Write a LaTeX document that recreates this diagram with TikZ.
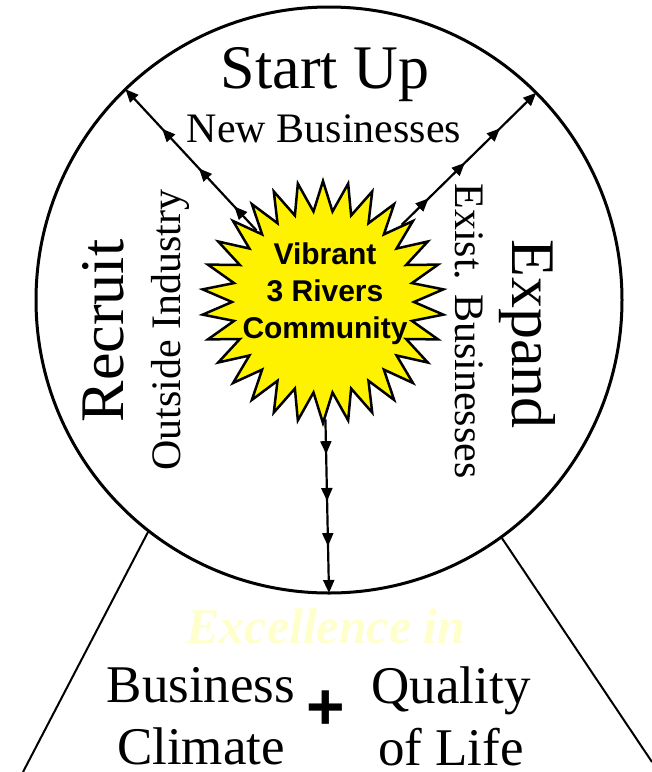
\documentclass[tikz,border=0pt]{standalone}
\usepackage{fontspec}
\setmainfont{Liberation Serif}
\newfontfamily\arialfont{Liberation Sans}
\usetikzlibrary{shapes.geometric,arrows.meta,decorations.markings}
\definecolor{paleyellow}{RGB}{255,255,204}
\begin{document}
\begin{tikzpicture}[x=1pt,y=-1pt,
  tipm/.tip={Triangle[length=13pt,width=11pt]},
  flow/.style={line width=2.2pt},
  marks/.style n args={3}{decoration={markings,
      mark=at position #1 with {\arrow{tipm}},
      mark=at position #2 with {\arrow{tipm}},
      mark=at position #3 with {\arrow{tipm}}},
      postaction={decorate}},
  big/.style={font=\fontsize{62}{62}\selectfont, inner sep=0pt},
  sub/.style={font=\fontsize{42}{42}\selectfont, inner sep=0pt},
  bottomtext/.style={font=\fontsize{53}{62}\selectfont, align=center, inner sep=0pt},
  edge/.style={line width=2pt}]
\useasboundingbox (0,0) rectangle (652,772);
% ring
\node[circle, draw, line width=3pt, minimum size=586pt, inner sep=0pt, outer sep=0pt] (ring) at (329,300) {};
% base lines
\coordinate (bl) at (23,772);
\coordinate (br) at (652,762);
\draw[edge] (ring.232.4) -- (bl);
\draw[edge] (ring.306.3) -- (br);
% starburst
\node[star, star points=30, star point ratio=1.33, minimum size=242pt, inner sep=0pt,
      draw, line width=2.5pt, fill=yellow] (sun) at (323,302) {};
\node[font=\arialfont\bfseries\fontsize{30}{37}\selectfont, align=center, inner sep=0pt] (suntext) at (325,294) {Vibrant\\3 Rivers\\Community};
% connectors
\draw[flow, marks={0.17}{0.44}{0.72}, -{tipm}] (sun) -- (ring.134.4);
\draw[flow, marks={0.2}{0.47}{0.73}, -{tipm}] (sun) -- (ring.45.8);
\draw[flow, marks={0.2}{0.47}{0.73}, -{tipm}] (sun) -- (ring.270);
% labels
\node[big, anchor=base] (startup) at (325,88) {Start Up};
\node[sub, anchor=base] (newbiz) at (324,142) {New Businesses};
\node[big, anchor=base, rotate=90] (recruit) at (123,331) {Recruit};
\node[sub, anchor=base, rotate=90] (outside) at (180,330) {Outside Industry};
\node[big, anchor=base, rotate=-90] (expand) at (512,334) {Expand};
\node[sub, anchor=base, rotate=-90] (exist) at (455,331) {Exist. Businesses};
\node[font=\fontsize{50}{50}\selectfont\bfseries\itshape, text=paleyellow, anchor=base, inner sep=0pt] (excel) at (326,643) {Excellence in};
\node[bottomtext] (business) at (201,716) {Business\\Climate};
\node[bottomtext] (quality) at (451,716) {Quality\\of Life};
\node[font=\arialfont\bfseries\fontsize{66}{66}\selectfont, inner sep=0pt] (plus) at (326,710) {+};
\end{tikzpicture}
\end{document}
